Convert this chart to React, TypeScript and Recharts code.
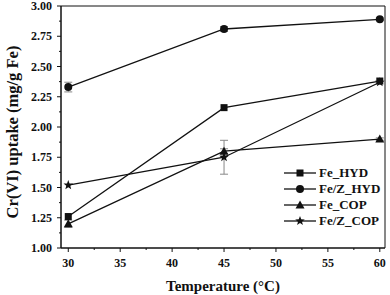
import React from 'react';
import {
  LineChart, Line, XAxis, YAxis, ReferenceArea, ErrorBar, Label,
} from 'recharts';

const temperatures = [30, 45, 60];
const feHyd = [1.26, 2.16, 2.38];
const fezHyd = [2.33, 2.81, 2.89];
const feCop = [1.2, 1.8, 1.9];
const fezCop = [1.52, 1.75, 2.37];
const fezHydErr = [0.04, 0.02, 0.01];
const feCopErr = [0.03, 0.02, 0.01];
const fezCopErr = [0, 0.14, 0];

const xTicks = [30, 32.5, 35, 37.5, 40, 42.5, 45, 47.5, 50, 52.5, 55, 57.5, 60];
const yTicks = [1, 1.125, 1.25, 1.375, 1.5, 1.625, 1.75, 1.875, 2, 2.125, 2.25, 2.375, 2.5, 2.625, 2.75, 2.875, 3];

const data = temperatures.map((t, i) => ({
  t,
  feHyd: feHyd[i],
  fezHyd: fezHyd[i],
  feCop: feCop[i],
  fezCop: fezCop[i],
  fezHydErr: fezHydErr[i],
  feCopErr: feCopErr[i],
  fezCopErr: fezCopErr[i],
}));

const FONT = '"Liberation Serif", "Times New Roman", serif';
const INK = '#111';
const TICK_SIZE = 4;
const TICK_MARGIN = 5;

type Shape = 'square' | 'circle' | 'triangle' | 'star';

const starPath = (cx: number, cy: number, r: number) => {
  const pts: string[] = [];
  for (let k = 0; k < 10; k++) {
    const rr = k % 2 === 0 ? r : r * 0.42;
    const a = -Math.PI / 2 + (k * Math.PI) / 5;
    pts.push(`${cx + rr * Math.cos(a)},${cy + rr * Math.sin(a)}`);
  }
  return `M${pts.join('L')}Z`;
};

const Marker = ({ cx, cy, shape }: { cx: number; cy: number; shape: Shape }) => {
  if (cx == null || cy == null) return null;
  if (shape === 'square') return <rect x={cx - 3.5} y={cy - 3.5} width={7} height={7} fill={INK} />;
  if (shape === 'circle') return <circle cx={cx} cy={cy} r={4} fill={INK} />;
  if (shape === 'triangle')
    return <path d={`M${cx},${cy - 4.5}L${cx + 4.5},${cy + 3.5}L${cx - 4.5},${cy + 3.5}Z`} fill={INK} />;
  return <path d={starPath(cx, cy, 5)} fill={INK} />;
};

const dotFor = (shape: Shape) => (p: any) => <Marker key={`${shape}-${p.index}`} cx={p.cx} cy={p.cy} shape={shape} />;

const YTick = (props: any) => {
  const { x, y, payload } = props;
  const v = payload.value as number;
  const major = Math.abs(v * 4 - Math.round(v * 4)) < 1e-6;
  const axisX = x + TICK_SIZE + TICK_MARGIN;
  return (
    <g>
      <line x1={axisX} x2={axisX - (major ? 4 : 2)} y1={y} y2={y} stroke={INK} strokeWidth={1} />
      {major && (
        <text x={x} y={y} dy={4} textAnchor="end" fontFamily={FONT} fontWeight="bold" fontSize={12} fill={INK}>
          {v.toFixed(2)}
        </text>
      )}
    </g>
  );
};

const XTick = (props: any) => {
  const { x, y, payload } = props;
  const v = payload.value as number;
  const major = Math.abs(v / 5 - Math.round(v / 5)) < 1e-6;
  const axisY = y - TICK_SIZE - TICK_MARGIN;
  return (
    <g>
      <line x1={x} x2={x} y1={axisY} y2={axisY + (major ? 4 : 2)} stroke={INK} strokeWidth={1} />
      {major && (
        <text x={x} y={y} dy={10} textAnchor="middle" fontFamily={FONT} fontWeight="bold" fontSize={12} fill={INK}>
          {v}
        </text>
      )}
    </g>
  );
};

const legendItems: { name: string; shape: Shape }[] = [
  { name: 'Fe_HYD', shape: 'square' },
  { name: 'Fe/Z_HYD', shape: 'circle' },
  { name: 'Fe_COP', shape: 'triangle' },
  { name: 'Fe/Z_COP', shape: 'star' },
];

const LegendBox = () => (
  <div
    style={{
      position: 'absolute', left: 284, top: 165,
      fontFamily: FONT, fontWeight: 'bold', fontSize: 13, color: INK, lineHeight: '16px',
    }}
  >
    {legendItems.map((it) => (
      <div key={it.name} style={{ display: 'flex', alignItems: 'center', height: 16 }}>
        <svg width={32} height={12} style={{ marginRight: 3 }}>
          <line x1={0} x2={32} y1={6} y2={6} stroke={INK} strokeWidth={1.3} />
          <Marker cx={16} cy={6} shape={it.shape} />
        </svg>
        <span>{it.name}</span>
      </div>
    ))}
  </div>
);

export default function App() {
  return (
    <div style={{ position: 'absolute', left: 0, top: 0, width: 390, height: 295, background: '#fff' }}>
      <LineChart width={390} height={295} data={data} margin={{ top: 6, right: 5, left: 0, bottom: 0 }}>
        <XAxis
          dataKey="t"
          type="number"
          domain={[29.3, 60.5]}
          ticks={xTicks}
          interval={0}
          allowDataOverflow
          height={47}
          stroke={INK}
          tickLine={false}
          tickSize={TICK_SIZE}
          tickMargin={TICK_MARGIN}
          tick={<XTick />}
        >
          <Label
            value="Temperature (°C)"
            position="insideBottom"
            offset={4}
            style={{ fontFamily: FONT, fontWeight: 'bold', fontSize: 15, fill: INK }}
          />
        </XAxis>
        <YAxis
          type="number"
          domain={[1, 3]}
          ticks={yTicks}
          interval={0}
          width={61}
          stroke={INK}
          tickLine={false}
          tickSize={TICK_SIZE}
          tickMargin={TICK_MARGIN}
          tick={<YTick />}
        >
          <Label
            content={() => (
              <text
                x={12}
                y={132}
                transform="rotate(-90 12 132)"
                textAnchor="middle"
                dominantBaseline="central"
                fontFamily={FONT}
                fontWeight="bold"
                fontSize={16.5}
                fill={INK}
              >
                Cr(VI) uptake (mg/g Fe)
              </text>
            )}
          />
        </YAxis>
        <ReferenceArea x1={29.3} x2={60.5} y1={1} y2={3} stroke={INK} strokeWidth={1} fill="none" ifOverflow="extendDomain" />
        <Line dataKey="feHyd" name="Fe_HYD" stroke={INK} strokeWidth={1.3} dot={dotFor('square')} isAnimationActive={false} />
        <Line dataKey="fezHyd" name="Fe/Z_HYD" stroke={INK} strokeWidth={1.3} dot={dotFor('circle')} isAnimationActive={false}>
          <ErrorBar dataKey="fezHydErr" width={4} stroke="#888" strokeWidth={1} />
        </Line>
        <Line dataKey="feCop" name="Fe_COP" stroke={INK} strokeWidth={1.3} dot={dotFor('triangle')} isAnimationActive={false}>
          <ErrorBar dataKey="feCopErr" width={4} stroke="#888" strokeWidth={1} />
        </Line>
        <Line dataKey="fezCop" name="Fe/Z_COP" stroke={INK} strokeWidth={1.3} dot={dotFor('star')} isAnimationActive={false}>
          <ErrorBar dataKey="fezCopErr" width={4} stroke="#888" strokeWidth={1} />
        </Line>
      </LineChart>
      <LegendBox />
    </div>
  );
}
